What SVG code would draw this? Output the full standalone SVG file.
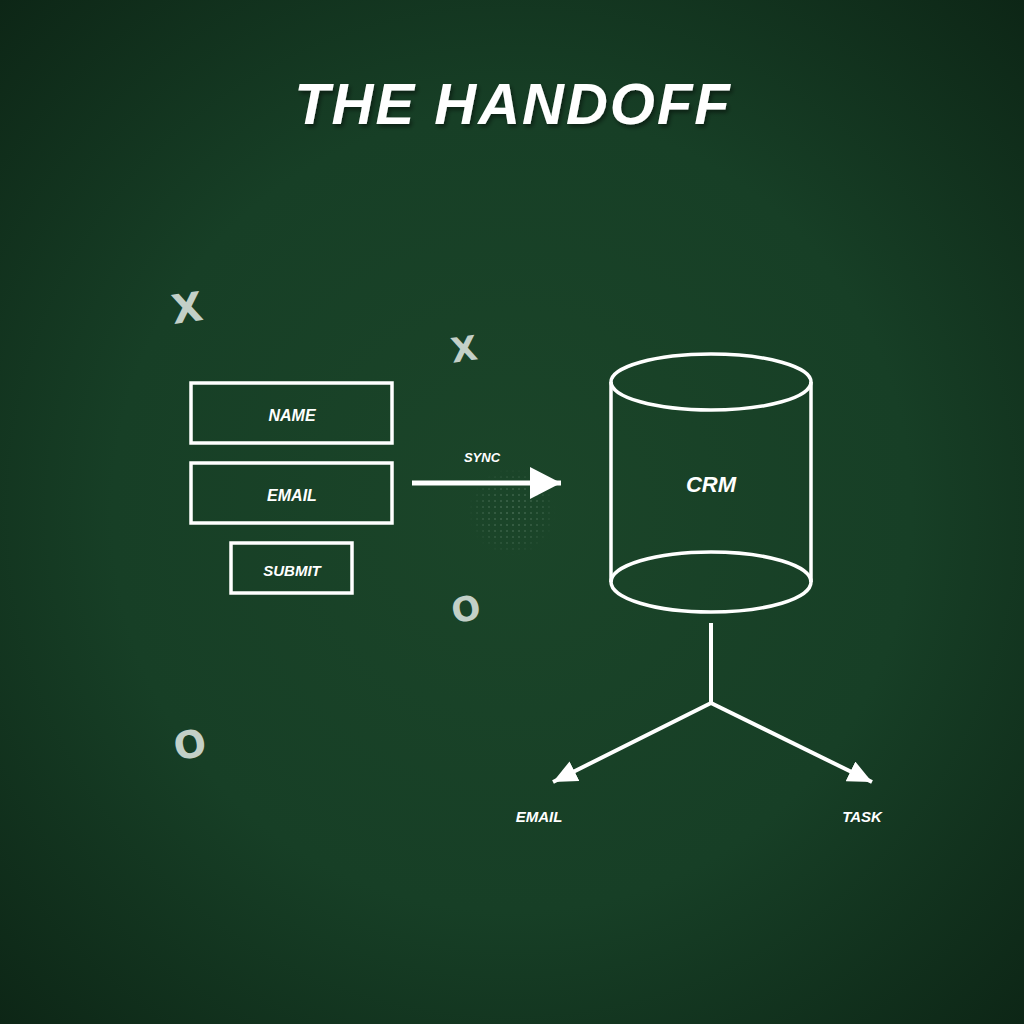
<svg xmlns="http://www.w3.org/2000/svg" width="1024" height="1024" viewBox="0 0 1024 1024">
<defs>
<radialGradient id="bg" cx="512" cy="512" r="725" gradientUnits="userSpaceOnUse">
<stop offset="0" stop-color="#1b4529"/>
<stop offset="0.55" stop-color="#173f26"/>
<stop offset="1" stop-color="#0d2616"/>
</radialGradient>
<pattern id="dots" width="6" height="6" patternUnits="userSpaceOnUse">
<circle cx="3" cy="3" r="0.7" fill="#b9d3c1"/>
</pattern>
<radialGradient id="fade" cx="0.5" cy="0.5" r="0.5">
<stop offset="0" stop-color="#fff" stop-opacity="1"/>
<stop offset="0.7" stop-color="#fff" stop-opacity="0.6"/>
<stop offset="1" stop-color="#fff" stop-opacity="0"/>
</radialGradient>
<mask id="fadeMask"><circle cx="512" cy="512" r="44" fill="url(#fade)"/></mask>
<filter id="shadow" x="-10%" y="-30%" width="120%" height="160%">
<feDropShadow dx="2" dy="3" stdDeviation="2" flood-color="#000" flood-opacity="0.45"/>
</filter>
<marker id="bigArrow" viewBox="0 0 31 32" refX="31" refY="16" markerWidth="31" markerHeight="32" markerUnits="userSpaceOnUse" orient="auto">
<path d="M0,0 L31,16 L0,32 z" fill="#ffffff"/>
</marker>
<marker id="smallArrow" viewBox="0 0 24 22" refX="24" refY="11" markerWidth="24" markerHeight="22" markerUnits="userSpaceOnUse" orient="auto">
<path d="M0,0 L24,11 L0,22 z" fill="#ffffff"/>
</marker>
<style>
.box{fill:none;stroke:#ffffff;stroke-width:3.5}
.lbl{font-family:"Liberation Sans",Arial,sans-serif;font-weight:bold;font-style:italic;fill:#ffffff;text-anchor:middle}
.mark{font-family:"DejaVu Sans",sans-serif;font-weight:bold;fill:#c3d0c8;text-anchor:middle}
.wire{fill:none;stroke:#ffffff;stroke-width:4}
</style>
</defs>
<rect width="1024" height="1024" fill="url(#bg)"/>
<rect x="466" y="466" width="92" height="92" fill="url(#dots)" mask="url(#fadeMask)" opacity="0.55"/>

<text x="513" y="124" class="lbl" font-size="58" filter="url(#shadow)" letter-spacing="2">THE HANDOFF</text>

<g id="marks">
<text x="187" y="322" class="mark" font-size="40" transform="rotate(-8 187 307)">X</text>
<text x="464" y="361" class="mark" font-size="34" transform="rotate(-8 464 349)">X</text>
<text x="466" y="621" class="mark" font-size="34" transform="rotate(-10 466 609)">O</text>
<text x="190" y="758" class="mark" font-size="38" transform="rotate(-10 190 745)">O</text>
</g>

<g id="name-field">
<rect x="191" y="383" width="201" height="60" class="box"/>
<text x="292" y="421" class="lbl" font-size="16">NAME</text>
</g>
<g id="email-field">
<rect x="191" y="463" width="201" height="60" class="box"/>
<text x="292" y="501" class="lbl" font-size="16">EMAIL</text>
</g>
<g id="submit-button">
<rect x="231" y="543" width="121" height="50" class="box"/>
<text x="292" y="576" class="lbl" font-size="15">SUBMIT</text>
</g>

<g id="crm">
<path d="M611,382 L611,582 M811,382 L811,582" class="box"/>
<ellipse cx="711" cy="382" rx="100" ry="28" class="box"/>
<path d="M611,582 A100,30 0 0 1 811,582 A100,30 0 0 1 611,582 z" class="box"/>
<text x="711" y="492" class="lbl" font-size="22">CRM</text>
</g>

<g id="connectors">
<line x1="412" y1="483" x2="561" y2="483" stroke="#ffffff" stroke-width="5" marker-end="url(#bigArrow)"/>
<text x="482" y="462" class="lbl" font-size="13">SYNC</text>
<path d="M711,623 L711,703" class="wire"/>
<path d="M711,703 L553,782" class="wire" marker-end="url(#smallArrow)"/>
<path d="M711,703 L872,782" class="wire" marker-end="url(#smallArrow)"/>
</g>

<g id="email-output">
<text x="539" y="822" class="lbl" font-size="15">EMAIL</text>
</g>
<g id="task-output">
<text x="862" y="822" class="lbl" font-size="15">TASK</text>
</g>
</svg>
